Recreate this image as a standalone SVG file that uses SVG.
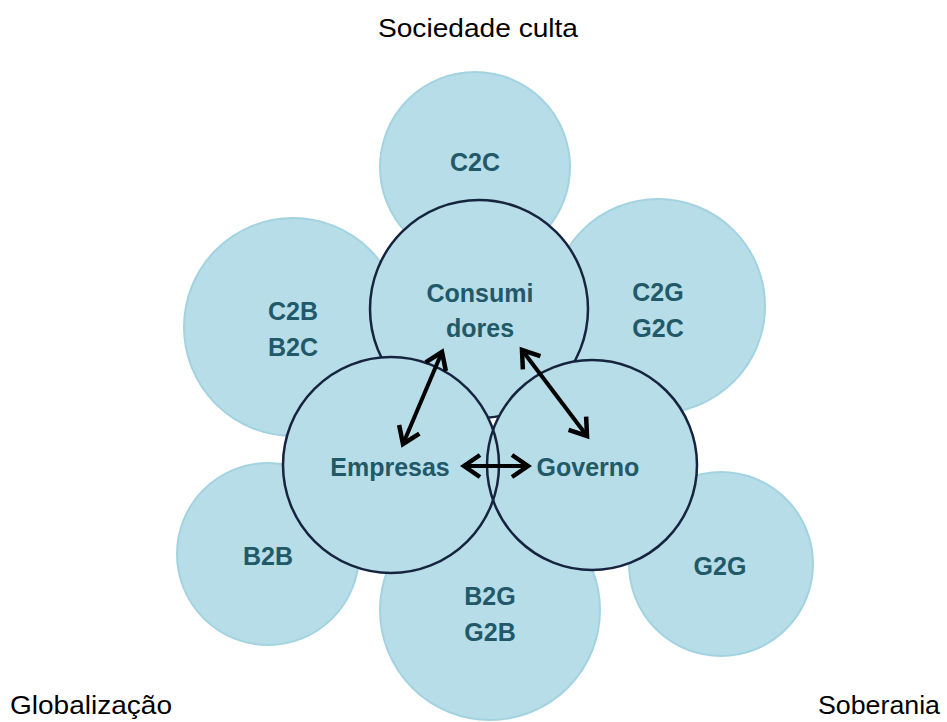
<svg xmlns="http://www.w3.org/2000/svg" width="947" height="722" viewBox="0 0 947 722">
<style>
.outer{fill:#b7dde8;stroke:#a3d3e1;stroke-width:2}
.fill{fill:#b7dde8;stroke:none}
.ring{fill:none;stroke:#16243f;stroke-width:2.5}
.lbl{font-family:"Liberation Sans",Arial,sans-serif;font-weight:bold;font-size:25px;fill:#215968;text-anchor:middle;dominant-baseline:central}
.cap{font-family:"Liberation Sans",Arial,sans-serif;font-size:26px;fill:#000;dominant-baseline:central}
.arrow{stroke:#000;stroke-width:4;fill:none}
</style>
<defs>
<marker id="ah" markerUnits="userSpaceOnUse" markerWidth="34" markerHeight="34" viewBox="-22 -17 28 34" refX="0" refY="0" orient="auto-start-reverse">
<path d="M-16,-11 L0,0 L-16,11" fill="none" stroke="#000" stroke-width="4.5"/>
</marker>
</defs>
<rect width="947" height="722" fill="#fff"/>
<g id="c2c"><circle class="outer" cx="475" cy="167" r="95"/><text class="lbl" x="475" y="162">C2C</text></g>
<g id="c2b"><circle class="outer" cx="293" cy="327" r="109"/><text class="lbl" x="293" y="311">C2B</text><text class="lbl" x="293" y="347">B2C</text></g>
<g id="c2g"><circle class="outer" cx="658" cy="306" r="107"/><text class="lbl" x="658" y="292">C2G</text><text class="lbl" x="658" y="328">G2C</text></g>
<g id="b2b"><circle class="outer" cx="268" cy="554" r="91"/><text class="lbl" x="268" y="556">B2B</text></g>
<g id="g2g"><circle class="outer" cx="721" cy="564" r="92"/><text class="lbl" x="720" y="566">G2G</text></g>
<g id="b2g"><circle class="outer" cx="490" cy="610" r="110"/><text class="lbl" x="490" y="596">B2G</text><text class="lbl" x="490" y="632">G2B</text></g>
<g id="consumidores"><circle class="fill" cx="479" cy="309" r="109"/><circle class="ring" cx="479" cy="309" r="109"/><text class="lbl" x="480" y="293">Consumi</text><text class="lbl" x="480" y="328">dores</text></g>
<g id="empresas"><circle class="fill" cx="391" cy="465" r="108"/><text class="lbl" x="390" y="467">Empresas</text></g>
<g id="governo"><circle class="fill" cx="592" cy="465" r="105"/><text class="lbl" x="588" y="467">Governo</text></g>
<g id="rings">
<circle class="ring" cx="391" cy="465" r="108"/>
<circle class="ring" cx="592" cy="465" r="105"/>
</g>
<g id="connectors">
<line class="arrow" x1="442" y1="352" x2="403" y2="444" marker-start="url(#ah)" marker-end="url(#ah)"/>
<line class="arrow" x1="522" y1="350" x2="587" y2="436" marker-start="url(#ah)" marker-end="url(#ah)"/>
<line class="arrow" x1="464" y1="466" x2="528" y2="466" marker-start="url(#ah)" marker-end="url(#ah)"/>
</g>
<g id="captions">
<text class="cap" x="478" y="28" text-anchor="middle" textLength="200" lengthAdjust="spacingAndGlyphs">Sociedade culta</text>
<text class="cap" x="10" y="705" textLength="162" lengthAdjust="spacingAndGlyphs">Globalização</text>
<text class="cap" x="818" y="705" textLength="122" lengthAdjust="spacingAndGlyphs">Soberania</text>
</g>
</svg>
